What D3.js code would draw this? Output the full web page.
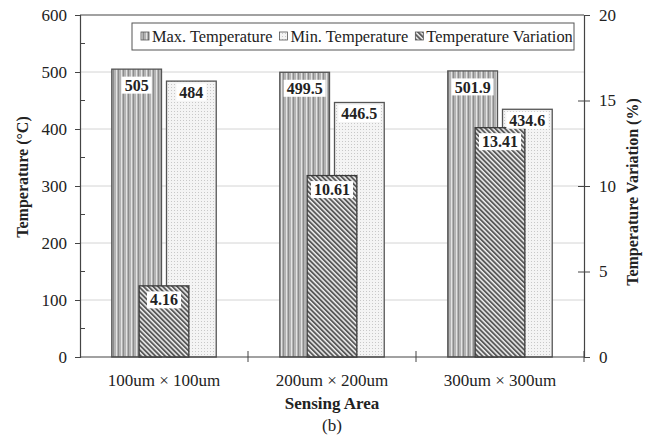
<!DOCTYPE html>
<html>
<head>
<meta charset="utf-8">
<script src="https://cdn.jsdelivr.net/npm/d3@7/dist/d3.min.js"></script>
<style>
  body { margin: 0; background: #fff; }
  text { font-family: "Liberation Serif", "Times New Roman", serif; fill: #222; }
</style>
</head>
<body>
<div id="chart"></div>
<script>
const chartWidth = 650;
const chartHeight = 446;

const margin = { top: 15, bottom: 90, left: 80, right: 66 };

// data
const categories = ["100um \u00d7 100um", "200um \u00d7 200um", "300um \u00d7 300um"];
const maxTemp = [505, 499.5, 501.9];
const minTemp = [484, 446.5, 434.6];
const tempVariation = [4.16, 10.61, 13.41];
const leftTicks = [0, 100, 200, 300, 400, 500, 600];
const rightTicks = [0, 5, 10, 15, 20];
const legendNames = ["Max. Temperature", "Min. Temperature", "Temperature Variation"];

const plotRight = chartWidth - margin.right;
const plotBottom = chartHeight - margin.bottom + 1;

var svg = d3.select("#chart")
  .append("svg")
  .attr("width", chartWidth)
  .attr("height", chartHeight);

// fill patterns
var defs = svg.append("defs");

var pMax = defs.append("pattern")
  .attr("id", "pMax")
  .attr("patternUnits", "userSpaceOnUse")
  .attr("width", 5).attr("height", 5);
pMax.append("rect").attr("width", 5).attr("height", 5).attr("fill", "#b4b4b4");
pMax.append("rect").attr("x", 1).attr("width", 1).attr("height", 5).attr("fill", "#e4e4e4");
pMax.append("rect").attr("x", 3).attr("width", 1).attr("height", 5).attr("fill", "#8c8c8c");

var pMin = defs.append("pattern")
  .attr("id", "pMin")
  .attr("patternUnits", "userSpaceOnUse")
  .attr("width", 3).attr("height", 3);
pMin.append("rect").attr("width", 3).attr("height", 3).attr("fill", "#f4f4f4");
pMin.append("rect").attr("width", 1).attr("height", 1).attr("fill", "#c8c8c8");

var pVar = defs.append("pattern")
  .attr("id", "pVar")
  .attr("patternUnits", "userSpaceOnUse")
  .attr("width", 3.4).attr("height", 3.4)
  .attr("patternTransform", "rotate(-45)");
pVar.append("rect").attr("width", 3.4).attr("height", 3.4).attr("fill", "#f0f0f0");
pVar.append("rect").attr("width", 1.9).attr("height", 3.4).attr("fill", "#5a5a5a");

// scales
var xScale = d3.scaleBand()
  .domain(categories)
  .range([margin.left, plotRight]);

var yScale = d3.scaleLinear()
  .domain([0, 600])
  .range([plotBottom, margin.top]);

var y2Scale = d3.scaleLinear()
  .domain([0, 20])
  .range([plotBottom, margin.top]);

var bw = xScale.bandwidth();
var barW = bw * 0.296;
var gap = 5;

// gridlines
svg.append("g")
  .selectAll("line")
  .data(leftTicks.filter(d => d > 0 && d < 600))
  .enter().append("line")
  .attr("x1", margin.left).attr("x2", plotRight)
  .attr("y1", d => yScale(d)).attr("y2", d => yScale(d))
  .attr("stroke", "#d4d4d4")
  .attr("stroke-width", 1);

// series description: values, scale, x offset, fill, label offset
var series = [
  { vals: maxTemp, scale: yScale, off: -barW - gap / 2, fill: "url(#pMax)", stroke: "#555", lab: 16 },
  { vals: minTemp, scale: yScale, off: gap / 2, fill: "url(#pMin)", stroke: "#555", lab: 11 },
  { vals: tempVariation, scale: y2Scale, off: -barW / 2, fill: "url(#pVar)", stroke: "#3a3a3a", lab: 14 }
];

series.forEach(function(s) {
  svg.append("g")
    .selectAll("rect")
    .data(s.vals)
    .enter().append("rect")
    .attr("x", (d, i) => xScale(categories[i]) + bw / 2 + s.off)
    .attr("y", d => s.scale(d))
    .attr("width", barW)
    .attr("height", d => plotBottom - s.scale(d))
    .attr("fill", s.fill)
    .attr("stroke", s.stroke)
    .attr("stroke-width", 1.3);
});

// value labels in white boxes
series.forEach(function(s) {
  s.vals.forEach(function(v, i) {
    var cx = xScale(categories[i]) + bw / 2 + s.off + barW / 2;
    var cy = s.scale(v) + s.lab;
    var g = svg.append("g");
    var t = g.append("text")
      .attr("x", cx)
      .attr("y", cy)
      .attr("dy", "0.35em")
      .attr("text-anchor", "middle")
      .style("font-size", "16px")
      .style("font-weight", "bold")
      .text(v);
    var bb = t.node().getBBox();
    g.insert("rect", "text")
      .attr("x", bb.x - 3)
      .attr("y", cy - 8.5)
      .attr("width", bb.width + 6)
      .attr("height", 17)
      .attr("fill", "#fff");
  });
});

// frame top line
svg.append("line")
  .attr("x1", margin.left).attr("x2", plotRight)
  .attr("y1", margin.top).attr("y2", margin.top)
  .attr("stroke", "#444").attr("stroke-width", 1.2);

// left axis
var yAxis = d3.axisLeft(yScale)
  .tickValues(leftTicks)
  .tickSize(5)
  .tickPadding(8)
  .tickFormat(d3.format("d"));

var gy = svg.append("g")
  .attr("transform", "translate(" + margin.left + ",0)")
  .call(yAxis);
gy.select(".domain").attr("stroke", "#444").attr("stroke-width", 1.2);
gy.selectAll(".tick line").attr("stroke", "#444");
gy.selectAll(".tick text").style("font-size", "17px").style("font-family", "Liberation Serif").attr("fill", "#333");

// left minor ticks (inside)
svg.append("g")
  .selectAll("line")
  .data([50, 150, 250, 350, 450, 550])
  .enter().append("line")
  .attr("x1", margin.left).attr("x2", margin.left + 5)
  .attr("y1", d => yScale(d)).attr("y2", d => yScale(d))
  .attr("stroke", "#444");

// right axis
var y2Axis = d3.axisRight(y2Scale)
  .tickValues(rightTicks)
  .tickSize(6)
  .tickPadding(9);

var gy2 = svg.append("g")
  .attr("transform", "translate(" + plotRight + ",0)")
  .call(y2Axis);
gy2.select(".domain").attr("stroke", "#444").attr("stroke-width", 1.2);
gy2.selectAll(".tick line").attr("stroke", "#444").attr("x1", d => (d > 0 && d < 20) ? -6 : 0);
gy2.selectAll(".tick text").style("font-size", "17px").style("font-family", "Liberation Serif").attr("fill", "#333");

// bottom axis: ticks at category boundaries
var gx = svg.append("g")
  .attr("transform", "translate(0," + plotBottom + ")");
gx.append("line")
  .attr("x1", margin.left).attr("x2", plotRight)
  .attr("stroke", "#444").attr("stroke-width", 1.2);
gx.selectAll(".sep")
  .data(categories.slice(1).concat(["end"]))
  .enter().append("line")
  .attr("class", "sep")
  .attr("x1", (d, i) => margin.left + bw * (i + 1))
  .attr("x2", (d, i) => margin.left + bw * (i + 1))
  .attr("y1", -6).attr("y2", 5)
  .attr("stroke", "#444");
gx.selectAll(".cat")
  .data(categories)
  .enter().append("text")
  .attr("class", "cat")
  .attr("x", d => xScale(d) + bw / 2)
  .attr("y", 29)
  .attr("text-anchor", "middle")
  .style("font-size", "17px")
  .attr("fill", "#333")
  .text(d => d);

// axis titles
svg.append("text")
  .attr("x", (margin.left + plotRight) / 2)
  .attr("y", 409)
  .attr("text-anchor", "middle")
  .style("font-size", "17px")
  .style("font-weight", "bold")
  .text("Sensing Area");

svg.append("text")
  .attr("x", (margin.left + plotRight) / 2)
  .attr("y", 431)
  .attr("text-anchor", "middle")
  .style("font-size", "17px")
  .text("(b)");

svg.append("text")
  .attr("transform", "translate(28,177) rotate(-90)")
  .attr("text-anchor", "middle")
  .style("font-size", "16px")
  .style("font-weight", "bold")
  .text("Temperature (\u00b0C)");

svg.append("text")
  .attr("transform", "translate(638,192) rotate(-90)")
  .attr("text-anchor", "middle")
  .style("font-size", "16px")
  .style("font-weight", "bold")
  .text("Temperature Variation (%)");

// legend
var legend = svg.append("g");
legend.append("rect")
  .attr("x", 132).attr("y", 23)
  .attr("width", 442).attr("height", 27)
  .attr("fill", "#fff")
  .attr("stroke", "#555")
  .attr("stroke-width", 1);

var legendFills = series.map(s => s.fill);
var lx = 141;
legendNames.forEach(function(name, i) {
  legend.append("rect")
    .attr("x", lx).attr("y", 32)
    .attr("width", 8).attr("height", 8)
    .attr("fill", legendFills[i])
    .attr("stroke", "#555")
    .attr("stroke-width", 0.8);
  var t = legend.append("text")
    .attr("x", lx + 11)
    .attr("y", 42)
    .style("font-size", "16.4px")
    .attr("fill", "#333")
    .text(name);
  lx += 11 + t.node().getComputedTextLength() + 7;
});
</script>
</body>
</html>
